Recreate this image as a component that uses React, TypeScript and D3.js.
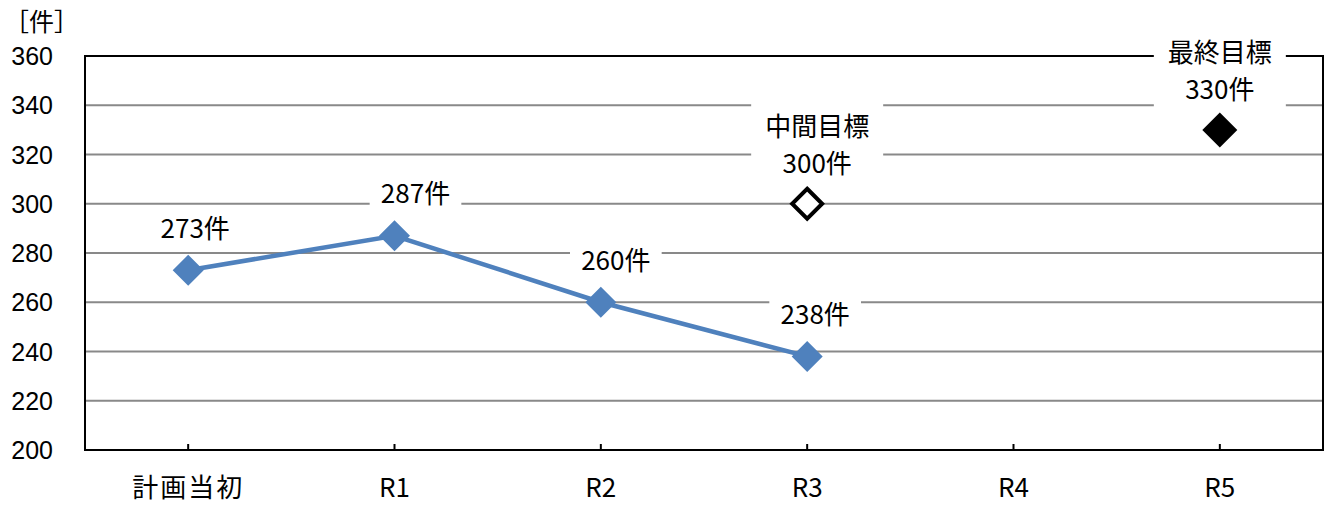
import React, { useEffect } from "react";
import * as d3 from "d3";

const categories = ["計画当初", "R1", "R2", "R3", "R4", "R5"];
const actualCats = ["計画当初", "R1", "R2", "R3"];
const actualValues = [273, 287, 260, 238];
const midTarget = { cat: "R3", value: 300, title: "中間目標" };
const finalTarget = { cat: "R5", value: 330, title: "最終目標" };
const yTicks = [200, 220, 240, 260, 280, 300, 320, 340, 360];
const unitLabel = "［件］";

// label layout (horizontal nudges for labels, px)
const labelDx = [7, 21, 15, 8];
const targetDx = [10, 0];

const W = 1333;
const H = 506;
const left = 85;
const right = 1323;
const top = 56;
const bottom = 450;

const labelFont = "'Noto Sans CJK JP', 'Noto Sans', sans-serif";
const axisFont = "'Liberation Sans', Arial, sans-serif";

export default function App() {
  useEffect(() => {
    document.body.style.margin = "0";
  }, []);

  const x = d3.scaleBand<string>().domain(categories).range([left, right]).padding(0);
  const cx = (c: string) => (x(c) as number) + x.bandwidth() / 2;
  const y = d3.scaleLinear().domain([200, 360]).range([bottom, top]);

  const pts: [number, number][] = actualCats.map((c, i) => [cx(c), y(actualValues[i])]);
  const line = d3.line<[number, number]>().x((d) => d[0]).y((d) => d[1]);

  const diamond = (px: number, py: number, r: number) =>
    `M${px},${py - r}L${px + r},${py}L${px},${py + r}L${px - r},${py}Z`;

  const fs = 26;
  const labelW = (s: string) => {
    let w = 0;
    for (const ch of s) w += /[0-9]/.test(ch) ? fs * 0.56 : fs;
    return w;
  };

  const targets = [midTarget, finalTarget];

  return (
    <svg width={W} height={H} style={{ display: "block" }}>
      <rect x={0} y={0} width={W} height={H} fill="#fff" />
      {/* gridlines */}
      {yTicks.slice(1, -1).map((t) => (
        <line key={t} x1={left} x2={right} y1={y(t)} y2={y(t)} stroke="#898989" strokeWidth={2} />
      ))}
      {/* frame */}
      <rect x={left} y={top} width={right - left} height={bottom - top} fill="none" stroke="#000" strokeWidth={2} />
      {/* ticks */}
      {categories.map((c) => (
        <line key={c} x1={cx(c)} x2={cx(c)} y1={bottom} y2={bottom - 6} stroke="#000" strokeWidth={2} />
      ))}
      {/* y tick labels */}
      {yTicks.map((t) => (
        <text key={t} x={53} y={y(t)} dy="0.36em" textAnchor="end" fontFamily={axisFont} fontSize={25} fill="#000">
          {t}
        </text>
      ))}
      <text x={4} y={31} fontFamily={labelFont} fontSize={25} fill="#000">{unitLabel}</text>
      {/* x labels */}
      {categories.map((c) => (
        <text key={c} x={cx(c)} y={488} dy="0.36em" textAnchor="middle" fontFamily={labelFont} fontSize={26} letterSpacing={c.length > 2 ? 2 : 0} fill="#000">
          {c}
        </text>
      ))}
      {/* label backgrounds */}
      {actualValues.map((v, i) => {
        const s = `${v}件`;
        const lx = pts[i][0] + labelDx[i];
        const ly = pts[i][1] - 42;
        const hw = labelW(s) / 2 + 11;
        return <rect key={"b" + i} x={lx - hw} y={ly - 20} width={hw * 2} height={40} fill="#fff" />;
      })}
      {targets.map((t, i) => {
        const px = cx(t.cat) + targetDx[i];
        const py = y(t.value);
        const hw = labelW(t.title) / 2 + 14;
        return <rect key={"tb" + i} x={px - hw} y={py - 40 - 38 - 27} width={hw * 2} height={38 + 27 + 20} fill="#fff" />;
      })}
      {/* series line */}
      <path d={line(pts) || ""} fill="none" stroke="#4F81BD" strokeWidth={4.5} />
      {pts.map((p, i) => (
        <path key={"m" + i} d={diamond(p[0], p[1], 15.5)} fill="#4F81BD" />
      ))}
      {/* target markers */}
      <path d={diamond(cx(midTarget.cat), y(midTarget.value), 15)} fill="#fff" stroke="#000" strokeWidth={4} />
      <path d={diamond(cx(finalTarget.cat), y(finalTarget.value), 17.5)} fill="#000" />
      {/* data labels */}
      {actualValues.map((v, i) => (
        <text key={"l" + i} x={pts[i][0] + labelDx[i]} y={pts[i][1] - 42} dy="0.36em" textAnchor="middle" fontFamily={labelFont} fontSize={fs} fill="#000">
          {`${v}件`}
        </text>
      ))}
      {targets.map((t, i) => {
        const px = cx(t.cat) + targetDx[i];
        const py = y(t.value);
        return (
          <g key={"tl" + i}>
            <text x={px} y={py - 77} dy="0.36em" textAnchor="middle" fontFamily={labelFont} fontSize={fs} fill="#000">{t.title}</text>
            <text x={px} y={py - 40} dy="0.36em" textAnchor="middle" fontFamily={labelFont} fontSize={fs} fill="#000">{`${t.value}件`}</text>
          </g>
        );
      })}
    </svg>
  );
}
